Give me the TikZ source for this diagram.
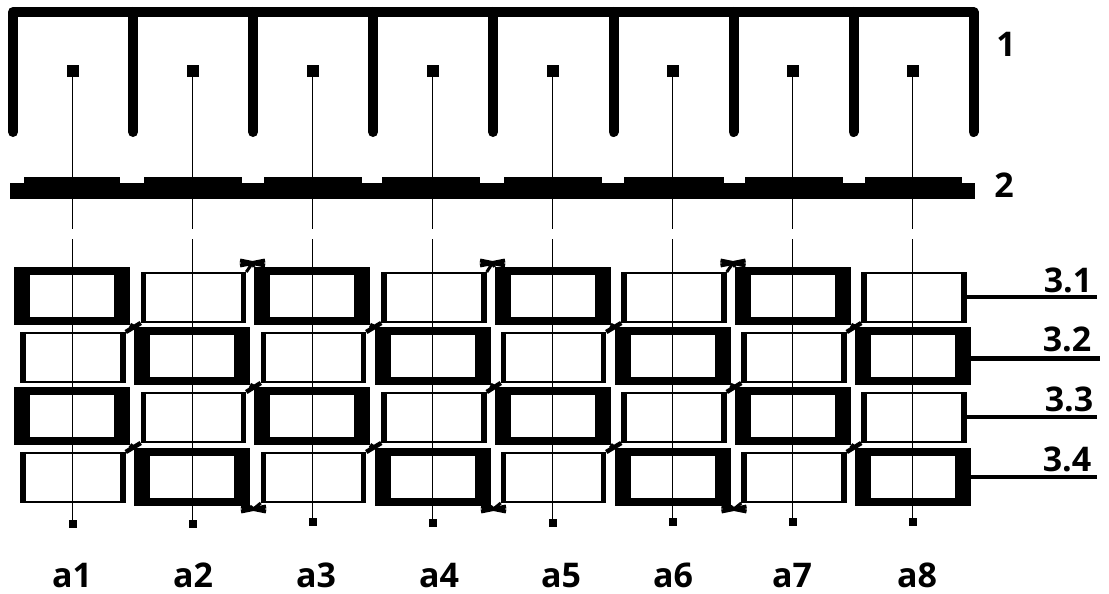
\documentclass[tikz,border=0pt]{standalone}
\usepackage{fontspec}
\setmainfont{Open Sans}
\usetikzlibrary{shapes.misc}
\begin{document}
\begin{tikzpicture}[
  x=1pt, y=-1pt,
  cellbox/.style 2 args={rectangle, fill=black, inner sep=0pt, outer sep=0pt,
                   path picture={\fill[white]
                     ([shift={(#1,#2)}]path picture bounding box.south west) rectangle
                     ([shift={(-#1,-#2)}]path picture bounding box.north east);}},
  thickcell/.style={cellbox={16pt}{8pt}, minimum width=116pt, minimum height=58pt},
  thincell/.style={cellbox={5.5pt}{2pt}, minimum width=105.5pt, minimum height=51pt},
  pinbox/.style={rectangle, fill=black, inner sep=0pt, outer sep=0pt, minimum size=12pt},
  endbox/.style={rectangle, fill=black, inner sep=0pt, outer sep=0pt, minimum size=8pt},
  padbox/.style={rectangle, fill=black, inner sep=0pt, outer sep=0pt, minimum height=7pt},
  barbox/.style={rectangle, fill=black, inner sep=0pt, outer sep=0pt, minimum width=965pt, minimum height=16pt},
  crossbox/.style={cross out, draw=black, line width=4pt, inner sep=0pt, outer sep=0pt,
                   minimum width=25pt, minimum height=5pt},
  comb/.style={line width=10pt, line join=round, line cap=round},
  lead/.style={line width=1.7pt, dash pattern=on 152pt off 10pt on 400pt},
  link/.style={line width=4.5pt},
  tap/.style={line width=3.5pt},
  numlabel/.style={anchor=base, inner sep=0pt, font=\fontsize{34}{34}\selectfont\bfseries}
]
\useasboundingbox (0,0) rectangle (1109,594);

% winding
\draw[comb] (13,132) -- (13,12) -- (973.5,12) -- (973.5,132);
\draw[comb] (133,12) -- (133,132);
\draw[comb] (253,12) -- (253,132);
\draw[comb] (373,12) -- (373,132);
\draw[comb] (493,12) -- (493,132);
\draw[comb] (613.5,12) -- (613.5,132);
\draw[comb] (733.5,12) -- (733.5,132);
\draw[comb] (853.5,12) -- (853.5,132);

% plate
\node[barbox] (bar) at (492.5,191) {};
\node[padbox, minimum width=96pt]  (pad1) at (72,180.5)  {};
\node[padbox, minimum width=98pt]  (pad2) at (193,180.5) {};
\node[padbox, minimum width=98pt]  (pad3) at (313,180.5) {};
\node[padbox, minimum width=98pt]  (pad4) at (431,180.5) {};
\node[padbox, minimum width=98pt]  (pad5) at (553,180.5) {};
\node[padbox, minimum width=100pt] (pad6) at (674,180.5) {};
\node[padbox, minimum width=98pt]  (pad7) at (794,180.5) {};
\node[padbox, minimum width=97pt]  (pad8) at (913.5,180.5) {};

% row 3.1
\node[thickcell] (c11) at (72,296)      {};
\node[thincell]  (c12) at (193.5,297.5) {};
\node[thickcell] (c13) at (312,296)     {};
\node[thincell]  (c14) at (434,297.5)   {};
\node[thickcell] (c15) at (552.5,296)   {};
\node[thincell]  (c16) at (674,297.5)   {};
\node[thickcell] (c17) at (793,296)     {};
\node[thincell]  (c18) at (914,297.5)   {};
% row 3.2
\node[thincell]  (c21) at (73,357.5)    {};
\node[thickcell] (c22) at (192,356)     {};
\node[thincell]  (c23) at (313.5,357.5) {};
\node[thickcell] (c24) at (432.5,356)   {};
\node[thincell]  (c25) at (553.5,357.5) {};
\node[thickcell] (c26) at (672.5,356)   {};
\node[thincell]  (c27) at (794,357.5)   {};
\node[thickcell] (c28) at (913,356)     {};
% row 3.3
\node[thickcell] (c31) at (72,416)      {};
\node[thincell]  (c32) at (193.5,417.5) {};
\node[thickcell] (c33) at (312,416)     {};
\node[thincell]  (c34) at (434,417.5)   {};
\node[thickcell] (c35) at (552.5,416)   {};
\node[thincell]  (c36) at (674,417.5)   {};
\node[thickcell] (c37) at (793,416)     {};
\node[thincell]  (c38) at (914,417.5)   {};
% row 3.4
\node[thincell]  (c41) at (73,477.5)    {};
\node[thickcell] (c42) at (192,477)     {};
\node[thincell]  (c43) at (313.5,477.5) {};
\node[thickcell] (c44) at (432.5,477)   {};
\node[thincell]  (c45) at (553.5,477.5) {};
\node[thickcell] (c46) at (672.5,477)   {};
\node[thincell]  (c47) at (794,477.5)   {};
\node[thickcell] (c48) at (913,477)     {};

% crossings between rows
\draw[link] (c11.south east) -- (c22.north west) (c12.south west) -- (c21.north east);
\draw[link] (c13.south east) -- (c24.north west) (c14.south west) -- (c23.north east);
\draw[link] (c15.south east) -- (c26.north west) (c16.south west) -- (c25.north east);
\draw[link] (c17.south east) -- (c28.north west) (c18.south west) -- (c27.north east);
\draw[link] (c22.south east) -- (c33.north west) (c23.south west) -- (c32.north east);
\draw[link] (c24.south east) -- (c35.north west) (c25.south west) -- (c34.north east);
\draw[link] (c26.south east) -- (c37.north west) (c27.south west) -- (c36.north east);
\draw[link] (c31.south east) -- (c42.north west) (c32.south west) -- (c41.north east);
\draw[link] (c33.south east) -- (c44.north west) (c34.south west) -- (c43.north east);
\draw[link] (c35.south east) -- (c46.north west) (c36.south west) -- (c45.north east);
\draw[link] (c37.south east) -- (c48.north west) (c38.south west) -- (c47.north east);

% crossings on top and bottom
\node[crossbox] (tx1) at (252.5,263) {};
\node[crossbox] (tx2) at (492.5,263) {};
\node[crossbox] (tx3) at (733,263) {};
\node[crossbox] (bx1) at (253.5,509) {};
\node[crossbox] (bx2) at (493.5,509) {};
\node[crossbox] (bx3) at (734,509) {};
\draw[link, line width=3pt] (tx1.center) -- (c12.north east) (tx1.center) -- (c13.north west);
\draw[link, line width=3pt] (tx2.center) -- (c14.north east) (tx2.center) -- (c15.north west);
\draw[link, line width=3pt] (tx3.center) -- (c16.north east) (tx3.center) -- (c17.north west);
\draw[link, line width=3pt] (bx1.center) -- (c42.south east) (bx1.center) -- (c43.south west);
\draw[link, line width=3pt] (bx2.center) -- (c44.south east) (bx2.center) -- (c45.south west);
\draw[link, line width=3pt] (bx3.center) -- (c46.south east) (bx3.center) -- (c47.south west);

% conductors
\node[pinbox] (p1) at (72.5,71)  {};
\node[pinbox] (p2) at (192.5,71) {};
\node[pinbox] (p3) at (312.5,71) {};
\node[pinbox] (p4) at (432.5,71) {};
\node[pinbox] (p5) at (552.5,71) {};
\node[pinbox] (p6) at (672.5,71) {};
\node[pinbox] (p7) at (792.5,71) {};
\node[pinbox] (p8) at (912.5,71) {};
\node[endbox] (e1) at (72.5,524)  {};
\node[endbox] (e2) at (192.5,524) {};
\node[endbox] (e3) at (312.5,522) {};
\node[endbox] (e4) at (432.5,523) {};
\node[endbox] (e5) at (552.5,523) {};
\node[endbox] (e6) at (672.5,522) {};
\node[endbox] (e7) at (792.5,522) {};
\node[endbox] (e8) at (912.5,522) {};
\draw[lead] (p1) -- (e1);
\draw[lead] (p2) -- (e2);
\draw[lead] (p3) -- (e3);
\draw[lead] (p4) -- (e4);
\draw[lead] (p5) -- (e5);
\draw[lead] (p6) -- (e6);
\draw[lead] (p7) -- (e7);
\draw[lead] (p8) -- (e8);

% labels
\node[numlabel] (l1) at (1006,57)  {1};
\node[numlabel] (l2) at (1004,197) {2};
\node[numlabel] (l31) at (1068,292) {3.1};
\node[numlabel] (l32) at (1067,351) {3.2};
\node[numlabel] (l33) at (1069,411) {3.3};
\node[numlabel] (l34) at (1067,471) {3.4};
\coordinate (t1) at (1097,297);
\coordinate (t2) at (1100,358);
\coordinate (t3) at (1097,417);
\coordinate (t4) at (1097,477);
\draw[tap] (c18.east |- t1) -- (t1);
\draw[tap, line width=5pt] (c28.east |- t2) -- (t2);
\draw[tap] (c38.east |- t3) -- (t3);
\draw[tap] (c48.east |- t4) -- (t4);
\node[numlabel] (a1) at (72,587)  {a1};
\node[numlabel] (a2) at (193,587) {a2};
\node[numlabel] (a3) at (316,587) {a3};
\node[numlabel] (a4) at (439,587) {a4};
\node[numlabel] (a5) at (561,587) {a5};
\node[numlabel] (a6) at (673,587) {a6};
\node[numlabel] (a7) at (792,587) {a7};
\node[numlabel] (a8) at (917,587) {a8};
\end{tikzpicture}
\end{document}
